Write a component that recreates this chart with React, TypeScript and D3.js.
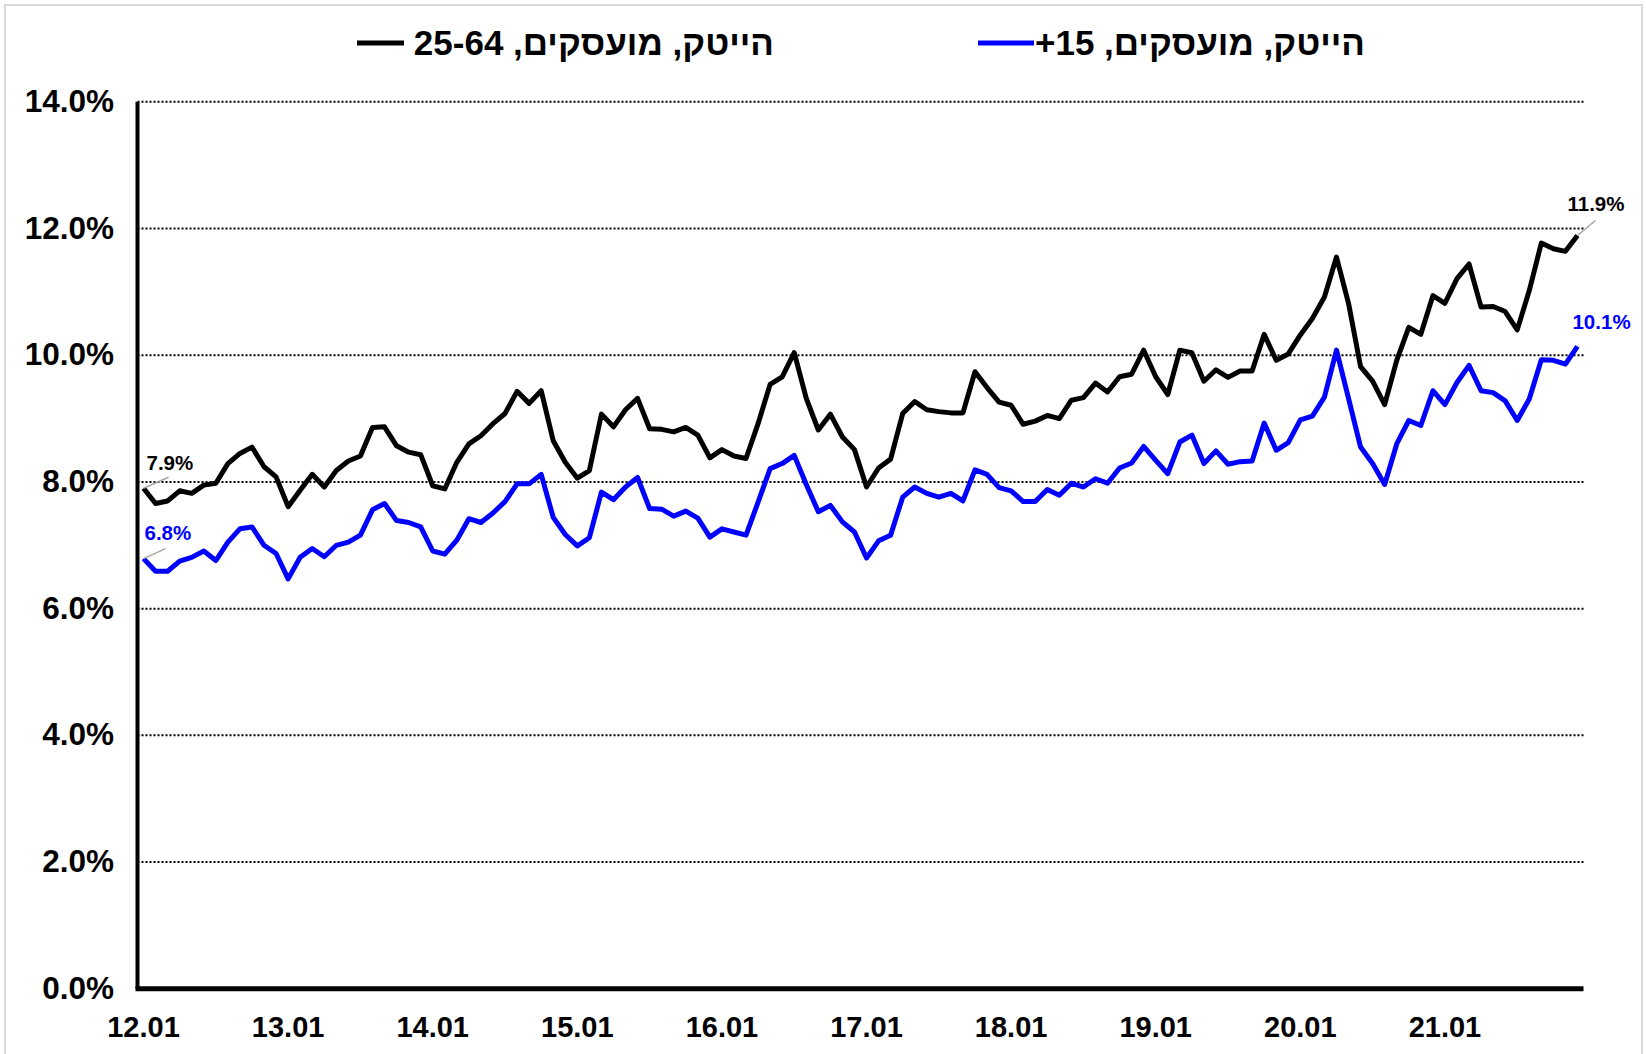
import React from 'react';
import * as d3 from 'd3';

// monthly categories Jan 2012 .. Dec 2021
const months: string[] = d3.range(120).map(
  (i) => `${12 + Math.floor(i / 12)}.${String((i % 12) + 1).padStart(2, '0')}`
);

const tickLabels = ['12.01', '13.01', '14.01', '15.01', '16.01', '17.01', '18.01', '19.01', '20.01', '21.01'];

const yTicks = [0, 2, 4, 6, 8, 10, 12, 14];

const seriesNames = ['הייטק, מועסקים, 25-64', 'הייטק, מועסקים, 15+'];

// share of hi-tech among employed, ages 25-64 (%)
const hitech2564 = [
  7.90, 7.66, 7.70, 7.86, 7.82, 7.95, 7.98, 8.29, 8.45, 8.55, 8.24, 8.08,
  7.61, 7.87, 8.12, 7.92, 8.18, 8.33, 8.41, 8.86, 8.87, 8.57, 8.47, 8.43,
  7.94, 7.89, 8.31, 8.60, 8.73, 8.92, 9.08, 9.43, 9.24, 9.44, 8.65, 8.31,
  8.06, 8.18, 9.07, 8.87, 9.14, 9.32, 8.84, 8.83, 8.79, 8.86, 8.74, 8.38,
  8.51, 8.41, 8.37, 8.92, 9.54, 9.66, 10.04, 9.32, 8.82, 9.07, 8.71, 8.51,
  7.92, 8.22, 8.36, 9.08, 9.27, 9.14, 9.11, 9.09, 9.09, 9.74, 9.49, 9.26,
  9.21, 8.91, 8.96, 9.05, 9.00, 9.29, 9.33, 9.56, 9.42, 9.66, 9.70, 10.08,
  9.66, 9.38, 10.08, 10.04, 9.59, 9.77, 9.65, 9.75, 9.75, 10.33, 9.92, 10.02,
  10.32, 10.58, 10.92, 11.55, 10.82, 9.82, 9.59, 9.22, 9.92, 10.44, 10.33, 10.94,
  10.82, 11.21, 11.44, 10.76, 10.77, 10.69, 10.40, 11.02, 11.77, 11.68, 11.64, 11.89,
];

// share of hi-tech among employed, ages 15+ (%)
const hitech15 = [
  6.79, 6.59, 6.59, 6.75, 6.81, 6.91, 6.76, 7.05, 7.26, 7.29, 7.00, 6.87,
  6.47, 6.81, 6.95, 6.82, 7.00, 7.05, 7.16, 7.56, 7.66, 7.39, 7.36, 7.29,
  6.91, 6.86, 7.08, 7.42, 7.36, 7.51, 7.69, 7.97, 7.97, 8.12, 7.44, 7.17,
  6.99, 7.12, 7.84, 7.72, 7.92, 8.07, 7.58, 7.57, 7.46, 7.54, 7.43, 7.13,
  7.26, 7.21, 7.16, 7.68, 8.21, 8.29, 8.42, 7.96, 7.53, 7.63, 7.37, 7.21,
  6.80, 7.07, 7.16, 7.76, 7.92, 7.82, 7.76, 7.82, 7.70, 8.19, 8.12, 7.91,
  7.86, 7.69, 7.69, 7.88, 7.79, 7.98, 7.92, 8.05, 7.98, 8.22, 8.30, 8.56,
  8.34, 8.13, 8.63, 8.74, 8.29, 8.49, 8.28, 8.32, 8.33, 8.93, 8.50, 8.62,
  8.98, 9.04, 9.34, 10.08, 9.32, 8.55, 8.29, 7.96, 8.60, 8.97, 8.89, 9.44,
  9.22, 9.57, 9.84, 9.44, 9.41, 9.28, 8.97, 9.31, 9.93, 9.92, 9.86, 10.14,
];

const colors = ['#000000', '#0000ff'];
const FONT = '"Liberation Sans", Arial, Helvetica, sans-serif';

export default function App() {
  const W = 1646;
  const H = 1054;
  const left = 137.5;
  const right = 1583.5;
  const x = d3.scalePoint<string>().domain(months).range([left, right]).padding(0.5);
  const y = d3.scaleLinear().domain([0, 14]).range([988.8, 101.8]);
  const line = d3
    .line<number>()
    .x((_, i) => x(months[i]) as number)
    .y((d) => y(d));

  const series = [hitech2564, hitech15];
  const fmt = d3.format('.1f');

  const first = (s: number[]) => ({ px: x(months[0]) as number, py: y(s[0]), v: s[0] });
  const last = (s: number[]) => ({
    px: x(months[months.length - 1]) as number,
    py: y(s[s.length - 1]),
    v: s[s.length - 1],
  });

  const f0 = first(hitech2564);
  const f1 = first(hitech15);
  const l0 = last(hitech2564);
  const l1 = last(hitech15);

  return (
    <svg
      width={W}
      height={H}
      style={{ position: 'absolute', left: 0, top: 0, background: '#fff' }}
      fontFamily={FONT}
    >
      <rect x={0} y={0} width={W} height={H} fill="#fff" />
      <rect x={5} y={5} width={1637} height={1100} fill="none" stroke="#d9d9d9" strokeWidth={2} />

      {/* gridlines */}
      {yTicks.filter((t) => t > 0).map((t) => (
        <line
          key={t}
          x1={left}
          x2={right}
          y1={y(t)}
          y2={y(t)}
          stroke="#000"
          strokeWidth={2}
          strokeDasharray="2,2"
        />
      ))}

      {/* y tick labels */}
      {yTicks.map((t) => (
        <text
          key={t}
          x={114}
          y={y(t) + 10}
          textAnchor="end"
          fontSize={31.5}
          fontWeight="bold"
          fill="#000"
        >
          {fmt(t)}%
        </text>
      ))}

      {/* axes */}
      <line x1={left} x2={left} y1={y(14)} y2={y(0)} stroke="#000" strokeWidth={4} />
      <line x1={left - 2} x2={right} y1={y(0)} y2={y(0)} stroke="#000" strokeWidth={5} />

      {/* x tick labels */}
      {tickLabels.map((lab) => (
        <text
          key={lab}
          x={x(lab) as number}
          y={1037}
          textAnchor="middle"
          fontSize={29}
          fontWeight="bold"
          fill="#000"
        >
          {lab}
        </text>
      ))}

      {/* series lines */}
      {series.map((s, k) => (
        <path
          key={k}
          d={line(s) as string}
          fill="none"
          stroke={colors[k]}
          strokeWidth={5}
          strokeLinejoin="round"
          strokeLinecap="butt"
        />
      ))}

      {/* data labels with leader lines */}
      <line x1={f0.px} y1={f0.py} x2={f0.px + 25} y2={f0.py - 11} stroke="#a6a6a6" strokeWidth={1.5} />
      <text x={f0.px + 3} y={f0.py - 18} fontSize={20.5} fontWeight="bold" fill={colors[0]}>
        {fmt(f0.v)}%
      </text>
      <line x1={f1.px} y1={f1.py} x2={f1.px + 22} y2={f1.py - 10} stroke="#a6a6a6" strokeWidth={1.5} />
      <text x={f1.px + 1} y={f1.py - 19} fontSize={20.5} fontWeight="bold" fill={colors[1]}>
        {fmt(f1.v)}%
      </text>
      <line x1={l0.px} y1={l0.py} x2={l0.px + 18} y2={l0.py - 15} stroke="#a6a6a6" strokeWidth={1.5} />
      <text x={l0.px - 10} y={l0.py - 24} fontSize={20.5} fontWeight="bold" fill={colors[0]}>
        {fmt(l0.v)}%
      </text>
      <text x={l1.px - 5} y={l1.py - 17} fontSize={20.5} fontWeight="bold" fill={colors[1]}>
        {fmt(l1.v)}%
      </text>

      {/* legend */}
      <g>
        <line x1={357} x2={404} y1={43} y2={43} stroke={colors[0]} strokeWidth={5} />
        <text
          x={774}
          y={55}
          direction="rtl"
          textAnchor="start"
          fontSize={35}
          fontWeight="bold"
          fill="#000"
        >
          {seriesNames[0]}
        </text>
        <line x1={978} x2={1034} y1={43} y2={43} stroke={colors[1]} strokeWidth={5} />
        <text
          x={1365}
          y={55}
          direction="rtl"
          textAnchor="start"
          fontSize={35}
          fontWeight="bold"
          fill="#000"
        >
          {seriesNames[1]}
        </text>
      </g>
    </svg>
  );
}
